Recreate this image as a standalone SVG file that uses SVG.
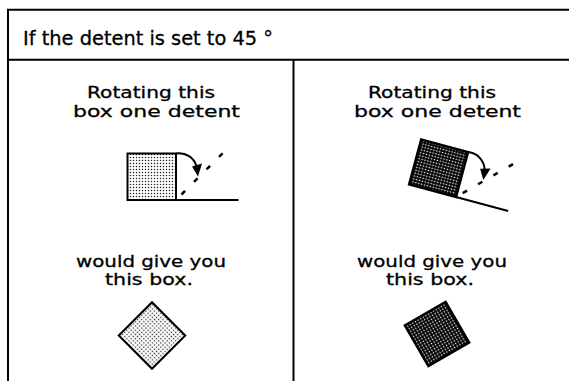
<svg xmlns="http://www.w3.org/2000/svg" width="569" height="381" viewBox="0 0 569 381">
<style>
.frame{stroke:#000;stroke-width:2;fill:none}
.t{font-family:"DejaVu Sans","Liberation Sans",sans-serif;fill:#000;stroke:#000;stroke-width:0.3}
.title{font-size:19.5px}
.lbl{font-size:15.8px}
.edge{stroke:#000;stroke-width:2;fill:none}
.box{stroke:#000;stroke-width:2}
.dbox{stroke:#000;stroke-width:2.5}
.dash{stroke:#000;stroke-width:2.5;fill:none;stroke-dasharray:5 12.7}
.head{fill:#000}
</style>
<defs>
<pattern id="light" width="3" height="3" patternUnits="userSpaceOnUse">
<rect width="3" height="3" fill="#fff"/>
<circle cx="1.5" cy="1.5" r="0.75" fill="#222"/>
</pattern>
<pattern id="dark" width="3" height="3" patternUnits="userSpaceOnUse">
<rect width="3" height="3" fill="#000"/>
<circle cx="1.5" cy="1.5" r="0.8" fill="#fff"/>
</pattern>
</defs>
<rect width="569" height="381" fill="#fff"/>
<g id="frame">
<path class="frame" d="M8,381 V9.8 H569 M8,59.8 H569 M293.5,59.8 V381"/>
</g>
<g id="title">
<text class="t title" x="23" y="45" textLength="250" lengthAdjust="spacingAndGlyphs">If the detent is set to 45 °</text>
</g>
<g id="left-panel">
<text class="t lbl" x="87" y="98" textLength="128" lengthAdjust="spacingAndGlyphs">Rotating this</text>
<text class="t lbl" x="73" y="116.7" textLength="167" lengthAdjust="spacingAndGlyphs">box one detent</text>
<g id="left-rotor">
<rect x="127.5" y="153.5" width="48.5" height="46.5" fill="url(#light)" class="box"/>
<path class="edge" d="M176,200 H238.5"/>
<path class="dash" d="M181.5,194.5 L230,146"/>
<path class="edge" d="M176,153.5 C186,152 194,158 196.5,166"/>
<polygon class="head" points="192,166.5 202,163.5 198,176.5"/>
</g>
<text class="t lbl" x="76" y="266.7" textLength="150" lengthAdjust="spacingAndGlyphs">would give you</text>
<text class="t lbl" x="105" y="285" textLength="88" lengthAdjust="spacingAndGlyphs">this box.</text>
<g id="left-result">
<rect x="128.5" y="312" width="47" height="47" fill="url(#light)" class="box" transform="rotate(45 152 335.5)"/>
</g>
</g>
<g id="right-panel">
<text class="t lbl" x="368" y="98" textLength="128" lengthAdjust="spacingAndGlyphs">Rotating this</text>
<text class="t lbl" x="354" y="116.7" textLength="167" lengthAdjust="spacingAndGlyphs">box one detent</text>
<g id="right-rotor" transform="translate(280,-3) rotate(15 176 200)">
<rect x="127.5" y="153.5" width="48.5" height="46.5" fill="url(#dark)" class="dbox"/>
<path class="edge" d="M176,200 H230"/>
<path class="dash" d="M181.5,194.5 L230,146"/>
<path class="edge" d="M176,153.5 C186,152 194,158 196.5,166"/>
<polygon class="head" points="192,166.5 202,163.5 198,176.5"/>
</g>
<text class="t lbl" x="357" y="266.7" textLength="150" lengthAdjust="spacingAndGlyphs">would give you</text>
<text class="t lbl" x="386" y="285" textLength="88" lengthAdjust="spacingAndGlyphs">this box.</text>
<g id="right-result">
<rect x="413.5" y="310.5" width="47" height="47" fill="url(#dark)" class="dbox" transform="rotate(60 437 334)"/>
</g>
</g>
</svg>
